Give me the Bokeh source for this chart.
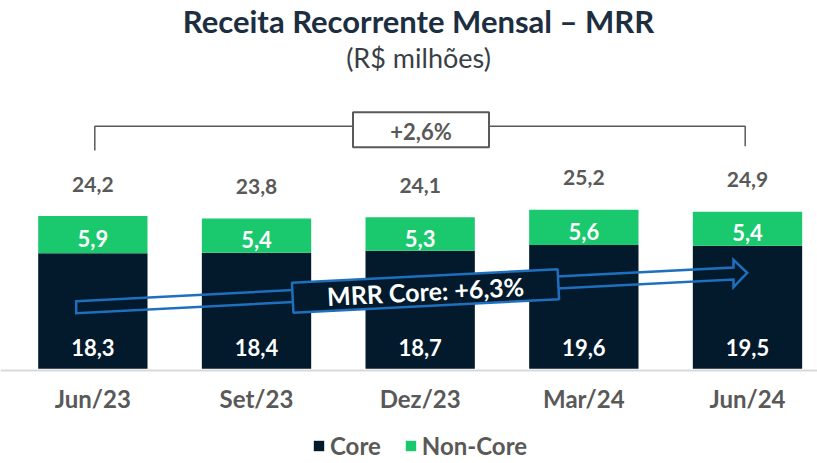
from bokeh.plotting import figure
from bokeh.models import (ColumnDataSource, Range1d, FixedTicker, Legend, LegendItem)
from bokeh.core.properties import value
from bokeh.embed import file_html
from bokeh.resources import INLINE

# ---- data ----
categories = ["Jun/23", "Set/23", "Dez/23", "Mar/24", "Jun/24"]
core = [18.3, 18.4, 18.7, 19.6, 19.5]
non_core = [5.9, 5.4, 5.3, 5.6, 5.4]
totals = [24.2, 23.8, 24.1, 25.2, 24.9]
total_growth = "+2,6%"
core_growth = "MRR Core: +6,3%"
title_text = "Receita Recorrente Mensal – MRR"
subtitle_text = "(R$ milhões)"
series_names = ["Core", "Non-Core"]

# ---- styles ----
CORE_C = "#021a2b"
NON_C = "#1ac96e"
BLUE = "#1f6fbf"
GRAY = "#595959"
NAVY = "#1c2e40"
FONT = value("Lato")

W, H = 817, 463

def fmt(v):
    return f"{v:.1f}".replace(".", ",")

# pixel (image) -> data helpers for annotation placement
def X(px):
    return (px - 92.35) / 163.66

def Y(py):
    return (368.3 - py) / 6.31

xs = list(range(len(categories)))
src = ColumnDataSource(dict(
    x=xs,
    core=core,
    non_core=non_core,
    top=[c + n for c, n in zip(core, non_core)],
    mid=[c + n / 2 for c, n in zip(core, non_core)],
    core_lbl=[fmt(v) for v in core],
    non_lbl=[fmt(v) for v in non_core],
    tot_lbl=[fmt(v) for v in totals],
))

p = figure(width=W, height=H, output_backend="svg", toolbar_location=None,
           x_range=Range1d(X(0), X(W)), y_range=Range1d(Y(H), Y(0)),
           min_border=0, min_border_left=0, min_border_right=0,
           min_border_top=0, min_border_bottom=0, title=None)
p.outline_line_color = None
p.grid.visible = False
p.yaxis.visible = False
p.background_fill_color = "white"
p.border_fill_color = "white"

ax = p.xaxis[0]
ax.fixed_location = -0.2
ax.ticker = FixedTicker(ticks=xs)
ax.major_label_overrides = {i: c for i, c in enumerate(categories)}
ax.axis_line_color = "#d9d9d9"
ax.axis_line_width = 2
ax.major_tick_line_color = None
ax.minor_tick_line_color = None
ax.major_label_text_font = "Lato"
ax.major_label_text_font_style = "bold"
ax.major_label_text_font_size = "24px"
ax.major_label_text_color = GRAY
ax.major_label_standoff = 8

rs = p.vbar_stack(["core", "non_core"], x="x", width=0.668, source=src,
                  color=[CORE_C, NON_C], line_color=None)

# value labels
p.text(x="x", y=0, text="core_lbl", source=src, text_align="center",
       text_baseline="middle", y_offset=-21, text_color="white",
       text_font=FONT, text_font_style="bold", text_font_size="22px")
p.text(x="x", y="mid", text="non_lbl", source=src, text_align="center",
       text_baseline="middle", y_offset=4, text_color="white",
       text_font=FONT, text_font_style="bold", text_font_size="22px")
p.text(x="x", y="top", text="tot_lbl", source=src, text_align="center",
       text_baseline="middle", y_offset=-32, text_color=GRAY,
       text_font=FONT, text_font_style="bold", text_font_size="21px")

# titles
p.text(x=[X(418)], y=[Y(20)], text=[title_text], text_align="center",
       text_baseline="middle", text_color=NAVY, text_font=FONT,
       text_font_style="bold", text_font_size="31px")
p.text(x=[X(418)], y=[Y(57)], text=[subtitle_text], text_align="center",
       text_baseline="middle", text_color="#3a3f45", text_font=FONT,
       text_font_size="27px")

# bracket for total growth
p.line(x=[X(94.3), X(94.3), X(744.7), X(744.7)],
       y=[Y(150), Y(125.7), Y(125.7), Y(145.7)],
       line_color=GRAY, line_width=1.5)
p.rect(x=[X(420.5)], y=[Y(129.2)], width=136, height=35,
       width_units="screen", height_units="screen",
       fill_color="white", line_color=GRAY, line_width=2)
p.text(x=[X(420.5)], y=[Y(131)], text=[total_growth], text_align="center",
       text_baseline="middle", text_color=GRAY, text_font=FONT,
       text_font_style="bold", text_font_size="22px")

# core growth arrow (outline)
x0, y0 = X(75.7), Y(306.7)
xt, yt = X(746.7), Y(272.3)
xb = X(733)
yb = y0 + (yt - y0) * (xb - x0) / (xt - x0)
hs = 6 / 6.31
hh = 13.6 / 6.31
p.patch(x=[x0, xb, xb, xt, xb, xb, x0],
        y=[y0 + hs, yb + hs, yb + hh, yt, yb - hh, yb - hs, y0 - hs],
        fill_alpha=0, line_color=BLUE, line_width=2.5, line_join="miter")

bx, by = X(425), Y(290.5)
p.rect(x=[bx], y=[by], width=266, height=30, width_units="screen",
       height_units="screen", angle=2.9, angle_units="deg",
       fill_color=CORE_C, line_color=BLUE, line_width=2.5)
p.text(x=[bx], y=[by], text=[core_growth], angle=2.9, angle_units="deg",
       text_align="center", text_baseline="middle", text_color="white",
       text_font=FONT, text_font_style="bold", text_font_size="25px")

legend = Legend(items=[LegendItem(label=series_names[0], renderers=[rs[0]]),
                       LegendItem(label=series_names[1], renderers=[rs[1]])],
                orientation="horizontal", location=(312, 3),
                glyph_width=13, glyph_height=13, label_standoff=5, spacing=23,
                padding=0, margin=0, border_line_color=None,
                background_fill_alpha=0, label_text_font="Lato",
                label_text_font_size="24px", label_text_color=GRAY,
                label_text_font_style="bold", label_height=24)
p.add_layout(legend)

open("out.html", "w").write(file_html(p, INLINE))
